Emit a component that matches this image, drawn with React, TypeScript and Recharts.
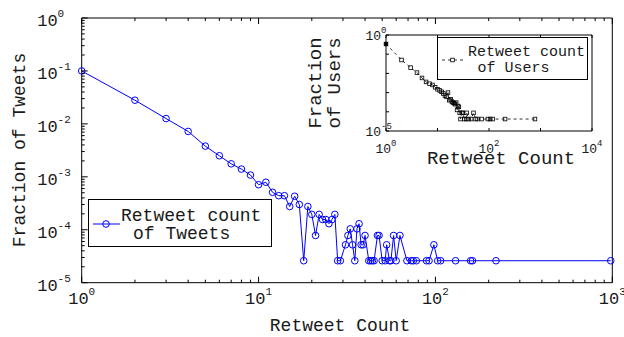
import React from "react";
import { LineChart, Line, XAxis, YAxis } from "recharts";

// main plot: retweet count distribution over tweets
const tweetRetweetCounts = [
  1, 2, 3, 4, 5, 6, 7, 8, 9, 10, 11, 12, 13, 14, 15, 16, 17, 18, 19, 20, 21, 22, 23, 24, 25, 26, 27, 28, 29,
  31, 32, 33, 34, 35, 36, 37, 38, 39, 40, 42, 43, 44, 45, 47, 48, 50, 52, 53, 55, 56, 58, 60, 63, 69, 73, 75,
  78, 89, 92, 98, 103, 107, 130, 158, 162, 220, 980,
];
const tweetFractions = [
  0.1, 0.028, 0.0126, 0.0072, 0.0038, 0.0025, 0.00176, 0.0014, 0.00108, 0.00071, 0.00079, 0.00051, 0.00044,
  0.00044, 0.000275, 0.00043, 0.0003, 0.000026, 0.000275, 0.000195, 0.000078, 0.000195, 0.000156, 0.000156,
  0.00013, 0.000156, 0.000195, 0.000026, 0.000026, 0.000052, 0.000078, 0.000104, 0.000052, 0.000026, 0.000104,
  0.00013, 0.000052, 0.000052, 0.000078, 0.000026, 0.000026, 0.000026, 0.000026, 0.000078, 0.000078, 0.000026,
  0.000026, 0.000052, 0.000026, 0.000026, 0.000078, 0.000026, 0.000078, 0.000026, 0.000026, 0.000026, 0.000026,
  0.000026, 0.000026, 0.000052, 0.000026, 0.000026, 0.000026, 0.000026, 0.000026, 0.000026, 0.000026,
];

// inset: retweet count distribution over users
const userRetweetCounts = [
  1, 2, 3, 4, 5, 6, 7, 8, 9, 10, 11, 12, 13, 14, 15, 16, 17, 18, 19, 20, 21, 22, 23, 24, 25, 26, 27, 28,
  30, 31, 33, 36, 37, 40, 45, 50, 55, 60, 72, 95, 105, 118, 205, 780,
];
const userFractions = [
  0.34, 0.05, 0.02, 0.011, 0.0058, 0.0036, 0.0029, 0.0025, 0.0019, 0.0015, 0.0013, 0.0011, 0.0009, 0.0007,
  0.0006, 0.001, 0.0004, 0.00045, 0.00034, 0.0003, 0.00028, 0.00025, 0.0003, 0.000125, 0.0002, 0.00018,
  0.000088, 0.000042, 0.000088, 0.000088, 0.000042, 0.000042, 0.000088, 0.000042, 0.000042, 0.000088,
  0.000042, 0.000042, 0.000042, 0.000042, 0.000042, 0.000042, 0.000042, 0.000042,
];

const mainXDomain = [1, 1000];
const mainYDomain = [1e-5, 1];
const insetXDomain = [1, 10000];
const insetYDomain = [1e-5, 1];
const insetXTicks = [1, 10, 100, 1000, 10000];
const insetXLabels = [1, 100, 10000];
const insetYTicks = [1e-5, 1e-4, 1e-3, 1e-2, 1e-1, 1];
const insetYLabels = [1e-5, 1];
const mainDecadesX = [1, 10, 100, 1000];
const mainDecadesY = [1e-5, 1e-4, 1e-3, 1e-2, 1e-1, 1];

const tweetData = tweetRetweetCounts.map((c, i) => ({ count: c, fraction: tweetFractions[i] }));
const userData = userRetweetCounts.map((c, i) => ({ count: c, fraction: userFractions[i] }));

// every 1..9 multiple of each decade, for the minor ticks
function decadeTicks(lo: number, hi: number) {
  const out: number[] = [];
  for (let e = lo; e < hi; e++) {
    for (let m = 1; m < 10; m++) out.push(Number((m * Math.pow(10, e)).toPrecision(3)));
  }
  out.push(Math.pow(10, hi));
  return out;
}
const mainXTicks = decadeTicks(0, 3);
const mainYTicks = decadeTicks(-5, 0);

const W = 624;
const H = 337;
const FONT = '"Liberation Mono", "DejaVu Sans Mono", monospace';
const INK = "#1a1a1a";
const BLUE = "#0000ff";

function isDecade(v: number) {
  const e = Math.log10(v);
  return Math.abs(e - Math.round(e)) < 1e-6;
}

function Pow10({ x, y, v, anchor, size, supSize, supDy }: any) {
  return (
    <text x={x} y={y} textAnchor={anchor} fontFamily={FONT} fontSize={size} fill={INK}>
      10
      <tspan dy={supDy} fontSize={supSize}>
        {Math.round(Math.log10(v))}
      </tspan>
    </text>
  );
}

// ticks point inward, labels only on decades
function makeTick(side: string, cfg: any) {
  return (props: any) => {
    const { x, y, payload } = props;
    const v = payload.value;
    const major = isDecade(v);
    const len = major ? cfg.major : cfg.minor;
    let line;
    if (side === "bottom") line = <line x1={x} x2={x} y1={y} y2={y - len} stroke="#000" />;
    else if (side === "top") line = <line x1={x} x2={x} y1={y} y2={y + len} stroke="#000" />;
    else if (side === "left") line = <line x1={x} x2={x + len} y1={y} y2={y} stroke="#000" />;
    else line = <line x1={x} x2={x - len} y1={y} y2={y} stroke="#000" />;
    const showLabel = cfg.labels && cfg.labels.some((l: number) => Math.abs(l - v) / l < 1e-6);
    return (
      <g>
        {len > 0 && line}
        {showLabel && side === "bottom" && (
          <Pow10 x={x} y={y + cfg.dy} v={v} anchor="middle" size={cfg.size} supSize={cfg.sup} supDy={cfg.supDy} />
        )}
        {showLabel && side === "left" && (
          <Pow10 x={x + cfg.dx} y={y + cfg.dy} v={v} anchor="start" size={cfg.size} supSize={cfg.sup} supDy={cfg.supDy} />
        )}
      </g>
    );
  };
}

const mainBottomTick = makeTick("bottom", { major: 6, minor: 3, labels: mainDecadesX, dy: 21, size: 17, sup: 11, supDy: -9 });
const mainTopTick = makeTick("top", { major: 6, minor: 3 });
const mainLeftTick = makeTick("left", { major: 6, minor: 3, labels: mainDecadesY, dx: -44.5, dy: 8, size: 17, sup: 11, supDy: -9 });
const mainRightTick = makeTick("right", { major: 6, minor: 3 });

const insetBottomTick = makeTick("bottom", { major: 3, minor: 0, labels: insetXLabels, dy: 22, size: 13, sup: 9, supDy: -7 });
const insetTopTick = makeTick("top", { major: 3, minor: 0 });
const insetLeftTick = makeTick("left", { major: 3, minor: 0, labels: insetYLabels, dx: -20.5, dy: 5, size: 13, sup: 9, supDy: -7 });
const insetRightTick = makeTick("right", { major: 3, minor: 0 });

function SquareDot(props: any) {
  const { cx, cy, index } = props;
  if (cx == null || cy == null) return <g key={index} />;
  const s = 3.6;
  return (
    <rect
      key={index}
      x={cx - s / 2}
      y={cy - s / 2}
      width={s}
      height={s}
      fill={index === 0 ? "#000" : "none"}
      stroke="#000"
      strokeWidth={0.8}
    />
  );
}

// four log axes forming a closed frame; width/height 1 keeps the frame on the margin edge
function frameAxes(xDomain: number[], yDomain: number[], xTicks: number[], yTicks: number[], ticks: any[]) {
  const common = { type: "number" as const, scale: "log" as const, interval: 0, tickSize: 0, tickMargin: 0, tickLine: false, axisLine: { stroke: "#000" } };
  return [
    <XAxis key="b" xAxisId="b" dataKey="count" domain={xDomain} ticks={xTicks} height={1} tick={ticks[0]} {...common} />,
    <XAxis key="t" xAxisId="t" orientation="top" dataKey="count" domain={xDomain} ticks={xTicks} height={1} tick={ticks[1]} {...common} />,
    <YAxis key="l" yAxisId="l" domain={yDomain} ticks={yTicks} width={1} tick={ticks[2]} {...common} />,
    <YAxis key="r" yAxisId="r" orientation="right" domain={yDomain} ticks={yTicks} width={1} tick={ticks[3]} {...common} />,
  ];
}

const textStyle: React.CSSProperties = {
  position: "absolute",
  fontFamily: FONT,
  color: INK,
  whiteSpace: "pre",
  lineHeight: 1,
};

function Rotated({ cx, cy, size, children }: any) {
  return (
    <div
      style={{
        ...textStyle,
        left: cx,
        top: cy,
        fontSize: size,
        transform: "translate(-50%, -50%) rotate(-90deg)",
      }}
    >
      {children}
    </div>
  );
}

function Centered({ cx, cy, size, children }: any) {
  return (
    <div style={{ ...textStyle, left: cx, top: cy, fontSize: size, transform: "translate(-50%, -50%)" }}>
      {children}
    </div>
  );
}

export default function App() {
  return (
    <div style={{ position: "absolute", left: 0, top: 0, width: W, height: H, background: "#fff", overflow: "hidden" }}>
      <div style={{ position: "absolute", left: 0, top: 0 }}>
        <LineChart width={W} height={H} data={tweetData} margin={{ top: 17, right: 10.7, bottom: 53.3, left: 80.7 }}>
          {frameAxes(mainXDomain, mainYDomain, mainXTicks, mainYTicks, [mainBottomTick, mainTopTick, mainLeftTick, mainRightTick])}
          <Line
            xAxisId="b"
            yAxisId="l"
            dataKey="fraction"
            stroke={BLUE}
            strokeWidth={1}
            dot={{ r: 3.3, stroke: BLUE, fill: "none", strokeWidth: 1 }}
            isAnimationActive={false}
          />
        </LineChart>
      </div>

      <div style={{ position: "absolute", left: 0, top: 0 }}>
        <LineChart width={W} height={H} data={userData} margin={{ top: 34, right: 31, bottom: 205, left: 385 }}>
          {frameAxes(insetXDomain, insetYDomain, insetXTicks, insetYTicks, [insetBottomTick, insetTopTick, insetLeftTick, insetRightTick])}
          <Line
            xAxisId="b"
            yAxisId="l"
            dataKey="fraction"
            stroke="#000"
            strokeWidth={0.8}
            strokeDasharray="3 3"
            dot={SquareDot}
            isAnimationActive={false}
          />
        </LineChart>
      </div>

      {/* axis titles */}
      <Rotated cx={20} cy={150} size={18}>Fraction of Tweets</Rotated>
      <Centered cx={340} cy={326} size={18}>Retweet Count</Centered>
      <Rotated cx={316} cy={83} size={19}>Fraction</Rotated>
      <Rotated cx={335} cy={83} size={19}>of Users</Rotated>
      <Centered cx={501} cy={159} size={19}>Retweet Count</Centered>

      {/* main legend */}
      <div
        style={{
          position: "absolute",
          left: 88,
          top: 199,
          width: 184,
          height: 48,
          boxSizing: "border-box",
          border: "1px solid #000",
          background: "#fff",
        }}
      >
        <svg width={40} height={46} style={{ position: "absolute", left: 0, top: 0 }}>
          <line x1={4} x2={31} y1={24} y2={24} stroke={BLUE} strokeWidth={1} />
          <circle cx={17} cy={24} r={3.3} stroke={BLUE} fill="none" strokeWidth={1} />
        </svg>
        <div style={{ ...textStyle, left: 32, top: 7, fontSize: 18 }}>Retweet count</div>
        <div style={{ ...textStyle, left: 44, top: 25, fontSize: 18 }}>of Tweets</div>
      </div>

      {/* inset legend */}
      <div
        style={{
          position: "absolute",
          left: 437,
          top: 37,
          width: 151,
          height: 43,
          boxSizing: "border-box",
          border: "1px solid #000",
          background: "#fff",
        }}
      >
        <svg width={30} height={41} style={{ position: "absolute", left: 0, top: 0 }}>
          <line x1={4} x2={25} y1={22} y2={22} stroke="#000" strokeWidth={0.8} strokeDasharray="3 3" />
          <rect x={12.7} y={20.2} width={3.6} height={3.6} fill="#fff" stroke="#000" strokeWidth={0.8} />
        </svg>
        <div style={{ ...textStyle, left: 30, top: 7, fontSize: 15 }}>Retweet count</div>
        <div style={{ ...textStyle, left: 39.5, top: 23, fontSize: 15 }}>of Users</div>
      </div>
    </div>
  );
}
